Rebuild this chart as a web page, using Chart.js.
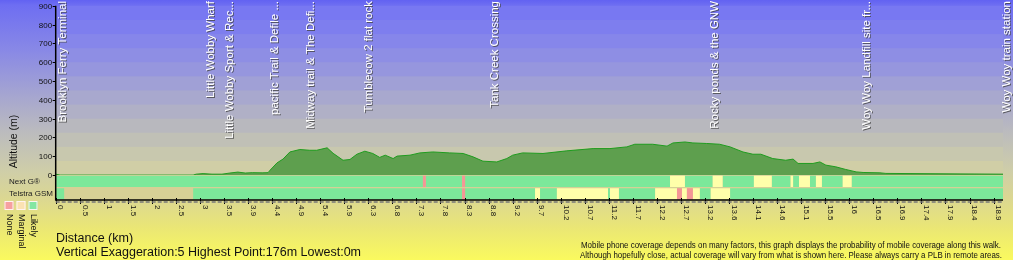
<!DOCTYPE html>
<html>
<head>
<meta charset="utf-8">
<title>Walk profile</title>
<script src="https://cdn.jsdelivr.net/npm/chart.js@4/dist/chart.umd.min.js"></script>
<style>
  html, body { margin: 0; padding: 0; background: #ffffff; }
  canvas { display: block; }
</style>
</head>
<body>
<canvas id="profile" width="1013" height="260"></canvas>
<script>
// distance axis labels (km), evenly spaced along the walk
const tickLabels = ['0', '0.5', '1', '1.5', '2', '2.5', '3', '3.5', '3.9', '4.4', '4.9', '5.4', '5.9', '6.3',
  '6.8', '7.3', '7.8', '8.3', '8.8', '9.2', '9.7', '10.2', '10.7', '11.2', '11.7', '12.2', '12.7', '13.2',
  '13.6', '14.1', '14.6', '15.1', '15.5', '16', '16.5', '16.9', '17.4', '17.9', '18.4', '18.9'];
const totalKm = 19.09;

// altitude profile
const distKm = [0, 0.09, 2.77, 2.83, 2.97, 3.15, 3.35, 3.51, 3.67, 3.82, 3.96, 4.16, 4.28, 4.32, 4.46, 4.58,
  4.72, 4.92, 5.12, 5.26, 5.47, 5.59, 5.79, 5.93, 6.07, 6.23, 6.39, 6.53, 6.64, 6.80, 6.88, 7.14, 7.34,
  7.60, 7.94, 8.21, 8.41, 8.61, 8.89, 9.09, 9.21, 9.41, 9.82, 10.30, 10.83, 11.17, 11.51, 11.67, 12.03,
  12.32, 12.44, 12.68, 12.84, 13.12, 13.38, 13.59, 13.85, 14.05, 14.21, 14.45, 14.71, 14.86, 14.96, 15.26,
  15.40, 15.52, 15.72, 15.92, 16.13, 16.27, 16.61, 16.73, 19.09];
const altitude = [5, 0, 0, 5, 8, 5, 5, 11, 16, 11, 13, 12, 13, 26, 65, 85,
  123, 136, 132, 132, 145, 116, 79, 83, 111, 127, 115, 94, 106, 88, 101, 106, 118,
  123, 118, 115, 97, 74, 70, 88, 106, 118, 115, 129, 141, 141, 150, 164, 164,
  154, 171, 176, 171, 168, 164, 150, 123, 111, 111, 88, 79, 85, 62, 62,
  70, 53, 44, 30, 17, 14, 12, 9, 5];

// waypoints
const waypointNames = ['Brooklyn Ferry Terminal', 'Little Wobby Wharf', 'Little Wobby Sport & Rec...',
  'pacific Trail & Defile ...', 'Midway trail & The Defi...', 'Tumblecow 2 flat rock', 'Tank Creek Crossing',
  'Rocky ponds & the GNW', 'Woy Woy Landfill site fr...', 'Woy Woy train station'];
const waypointKm = [0.14, 3.13, 3.51, 4.42, 5.15, 6.32, 8.84, 13.28, 16.34, 19.16];

// mobile coverage: [from km, to km, level] with level 0 none, 1 marginal, 2 likely
const levels = ['None', 'Marginal', 'Likely'];
const networks = ['Next G\u00ae', 'Telstra GSM'];
const nextGCover = [[0, 7.40, 2], [7.40, 7.46, 0], [7.46, 8.19, 2], [8.19, 8.25, 0], [8.25, 12.38, 2],
  [12.38, 12.68, 1], [12.68, 13.24, 2], [13.24, 13.44, 1], [13.44, 14.07, 2], [14.07, 14.43, 1],
  [14.43, 14.81, 2], [14.81, 14.86, 1], [14.86, 14.98, 2], [14.98, 15.20, 1], [15.20, 15.32, 2],
  [15.32, 15.44, 1], [15.44, 15.86, 2], [15.86, 16.04, 1], [16.04, 19.09, 2]];
const gsmCover = [[0, 0.17, 2], [2.77, 8.19, 2], [8.19, 8.25, 0], [8.25, 9.66, 2], [9.66, 9.76, 1],
  [9.76, 10.10, 2], [10.10, 11.13, 1], [11.13, 11.17, 2], [11.17, 11.35, 1], [11.35, 12.08, 2],
  [12.08, 12.52, 1], [12.52, 12.62, 0], [12.62, 12.72, 1], [12.72, 12.84, 0], [12.84, 12.98, 1],
  [12.98, 13.20, 2], [13.20, 13.59, 1], [13.59, 19.09, 2]];

const levelColors = ['#f49696', '#ffffaa', '#7ce89a'];
const legendColors = ['#f6a0a0', '#fbe2b2', '#84e6a2'];
const FONT = "'Liberation Sans', Arial, sans-serif";

function coverData(level) {
  const out = [];
  nextGCover.forEach(s => { if (s[2] === level) out.push({ x: [s[0], s[1]], y: networks[0] }); });
  gsmCover.forEach(s => { if (s[2] === level) out.push({ x: [s[0], s[1]], y: networks[1] }); });
  return out;
}

// sky bands behind the profile, top to bottom
const bandFills = ['#7878f2', '#7e7eee', '#8686ea', '#8e8ee4', '#9696de', '#a0a0d6',
  '#a8a8ce', '#b0b0c6', '#b8b8be', '#c0c0b6', '#c8c8ae', '#d0cea6'];

// background is painted just before the datasets, the axes are drawn on top afterwards
const bands = {
  id: 'bands',
  beforeDatasetsDraw(chart) {
    const { ctx, chartArea: a, scales, width, height } = chart;
    ctx.save();
    ctx.globalAlpha = 1;
    ctx.globalCompositeOperation = 'source-over';
    const g = ctx.createLinearGradient(0, 0, 0, height);
    g.addColorStop(0, '#6262f2');
    g.addColorStop(0.02, '#6e6ef2');
    g.addColorStop(0.19, '#8888e6');
    g.addColorStop(0.37, '#a6a6d0');
    g.addColorStop(0.52, '#bdbdbc');
    g.addColorStop(0.66, '#cfcea8');
    g.addColorStop(0.77, '#dcd890');
    g.addColorStop(0.88, '#ebe774');
    g.addColorStop(1, '#fafa5e');
    ctx.fillStyle = g;
    ctx.fillRect(0, 0, width, height);

    const zeroY = scales.y.getPixelForValue(0);
    const h = (zeroY - a.top) / bandFills.length;
    bandFills.forEach((c, i) => {
      ctx.fillStyle = c;
      ctx.fillRect(a.left, a.top + i * h, a.right - a.left, h + 0.6);
    });
    ctx.fillStyle = '#d6d096';
    ctx.fillRect(a.left, zeroY, a.right - a.left, a.bottom - zeroY);
    ctx.restore();
  }
};

function turnedText(ctx, text, x, y, angle) {
  ctx.save();
  ctx.translate(x, y);
  ctx.rotate(angle);
  ctx.fillText(text, 0, 0);
  ctx.restore();
}

const decorations = {
  id: 'decorations',
  afterDraw(chart) {
    const { ctx, chartArea: a, scales } = chart;
    const x = scales.x;
    const y = scales.y;
    const cov = scales.cov;
    ctx.save();

    // axis lines
    ctx.strokeStyle = '#000000';
    ctx.lineWidth = 1.5;
    ctx.beginPath();
    ctx.moveTo(a.left, a.top);
    ctx.lineTo(a.left, a.bottom);
    ctx.lineTo(a.right, a.bottom);
    ctx.stroke();

    // altitude ticks and labels
    ctx.lineWidth = 1;
    ctx.fillStyle = '#111111';
    ctx.font = '8px ' + FONT;
    ctx.textAlign = 'right';
    ctx.textBaseline = 'middle';
    y.ticks.forEach(t => {
      const py = Math.round(y.getPixelForValue(t.value)) + 0.5;
      ctx.beginPath();
      ctx.moveTo(a.left - 3, py);
      ctx.lineTo(a.left, py);
      ctx.stroke();
      ctx.fillText(t.label, a.left - 3.5, py);
    });

    // network names for the coverage rows
    ctx.textAlign = 'left';
    ctx.fillStyle = '#222222';
    networks.forEach((n, i) => ctx.fillText(n, 9, cov.getPixelForValue(i)));

    // distance tick marks and a dashed rule under the axis
    x.ticks.forEach(t => {
      const px = Math.round(x.getPixelForValue(t.value)) + 0.5;
      ctx.beginPath();
      ctx.moveTo(px, a.bottom - 2);
      ctx.lineTo(px, a.bottom + 4);
      ctx.stroke();
    });
    ctx.strokeStyle = '#777777';
    ctx.lineWidth = 1.5;
    ctx.setLineDash([4, 2]);
    ctx.beginPath();
    ctx.moveTo(a.left, a.bottom + 2);
    ctx.lineTo(a.right, a.bottom + 2);
    ctx.stroke();
    ctx.setLineDash([]);

    // distance tick labels, turned clockwise
    ctx.fillStyle = '#111111';
    ctx.font = '8px ' + FONT;
    ctx.textAlign = 'left';
    ctx.textBaseline = 'middle';
    x.ticks.forEach((t, i) => {
      turnedText(ctx, tickLabels[i], x.getPixelForValue(t.value) + 5, a.bottom + 5, Math.PI / 2);
    });

    // waypoint names, white with a grey drop shadow
    ctx.save();
    ctx.font = '11.5px ' + FONT;
    ctx.textAlign = 'right';
    ctx.fillStyle = '#ffffff';
    ctx.shadowColor = 'rgba(70,70,70,0.8)';
    ctx.shadowOffsetX = 1;
    ctx.shadowOffsetY = 1;
    ctx.shadowBlur = 0;
    waypointNames.forEach((name, i) => {
      turnedText(ctx, name, x.getPixelForValue(waypointKm[i]), 1, -Math.PI / 2);
    });
    ctx.restore();

    // y axis title
    ctx.fillStyle = '#111111';
    ctx.font = '10.5px ' + FONT;
    ctx.textAlign = 'center';
    ctx.textBaseline = 'middle';
    turnedText(ctx, 'Altitude (m)', 14.5, 141.5, -Math.PI / 2);

    // coverage legend
    ctx.font = '9px ' + FONT;
    ctx.textAlign = 'left';
    levels.forEach((lab, i) => {
      const lx = 4.5 + i * 12;
      ctx.fillStyle = legendColors[i];
      ctx.fillRect(lx, 201, 9, 9);
      ctx.strokeStyle = '#fff4f0';
      ctx.lineWidth = 1;
      ctx.strokeRect(lx + 0.5, 201.5, 8, 8);
      ctx.fillStyle = '#111111';
      turnedText(ctx, lab, lx + 5, 214, Math.PI / 2);
    });

    // notes under the chart
    const high = Math.max(...altitude);
    const low = Math.min(...altitude);
    ctx.fillStyle = '#111111';
    ctx.textAlign = 'left';
    ctx.textBaseline = 'alphabetic';
    ctx.font = '12.5px ' + FONT;
    ctx.fillText('Distance (km)', 56, 242);
    ctx.fillText('Vertical Exaggeration:5 Highest Point:' + high + 'm Lowest:' + low + 'm', 56, 256);
    ctx.font = '9.5px ' + FONT;
    ctx.textAlign = 'center';
    ctx.fillText('Mobile phone coverage depends on many factors, this graph displays the probability of mobile coverage along this walk.', 791, 247.5, 420);
    ctx.fillText('Although hopefully close, actual coverage will vary from what is shown here. Please always carry a PLB in remote areas.', 791, 258, 422);
    ctx.restore();
  }
};

const ctx = document.getElementById('profile').getContext('2d');
const chart = new Chart(ctx, {
  type: 'line',
  data: {
    datasets: [
      {
        label: 'Altitude',
        data: distKm.map((d, i) => ({ x: d, y: altitude[i] })),
        xAxisID: 'x',
        yAxisID: 'y',
        borderColor: '#1f9c1f',
        borderWidth: 1,
        backgroundColor: '#5e9f4e',
        fill: 'origin',
        pointRadius: 0,
        tension: 0
      },
      ...levels.map((lab, i) => ({
        type: 'bar',
        label: lab,
        indexAxis: 'y',
        xAxisID: 'x',
        yAxisID: 'cov',
        data: coverData(i),
        backgroundColor: levelColors[i],
        grouped: false,
        clip: 0,
        barPercentage: 1,
        categoryPercentage: 0.9
      }))
    ]
  },
  plugins: [bands, decorations],
  options: {
    responsive: false,
    animation: false,
    layout: { padding: { left: 9, right: 10, top: 5, bottom: 56 } },
    plugins: {
      legend: { display: false },
      tooltip: { enabled: false }
    },
    scales: {
      x: {
        type: 'linear',
        min: 0,
        max: totalKm,
        afterBuildTicks: s => { s.ticks = tickLabels.map((l, i) => ({ value: i * 18.9 / 39 })); },
        ticks: { display: false },
        grid: { drawOnChartArea: false, tickLength: 4 }
      },
      y: {
        type: 'linear',
        position: 'left',
        stack: 'left',
        stackWeight: 170,
        weight: 2,
        min: 0,
        max: 900,
        afterFit: s => { s.width = 46.7; },
        ticks: { stepSize: 100, autoSkip: false, padding: 1, font: { size: 8, family: FONT } },
        grid: { drawOnChartArea: false, tickLength: 3 }
      },
      cov: {
        type: 'category',
        axis: 'y',
        position: 'left',
        stack: 'left',
        stackWeight: 25,
        weight: 1,
        labels: networks,
        offset: true,
        afterFit: s => { s.width = 46.7; },
        ticks: { padding: 0, font: { size: 8, family: FONT } },
        grid: { drawOnChartArea: false, drawTicks: false }
      }
    }
  }
});
</script>
</body>
</html>
